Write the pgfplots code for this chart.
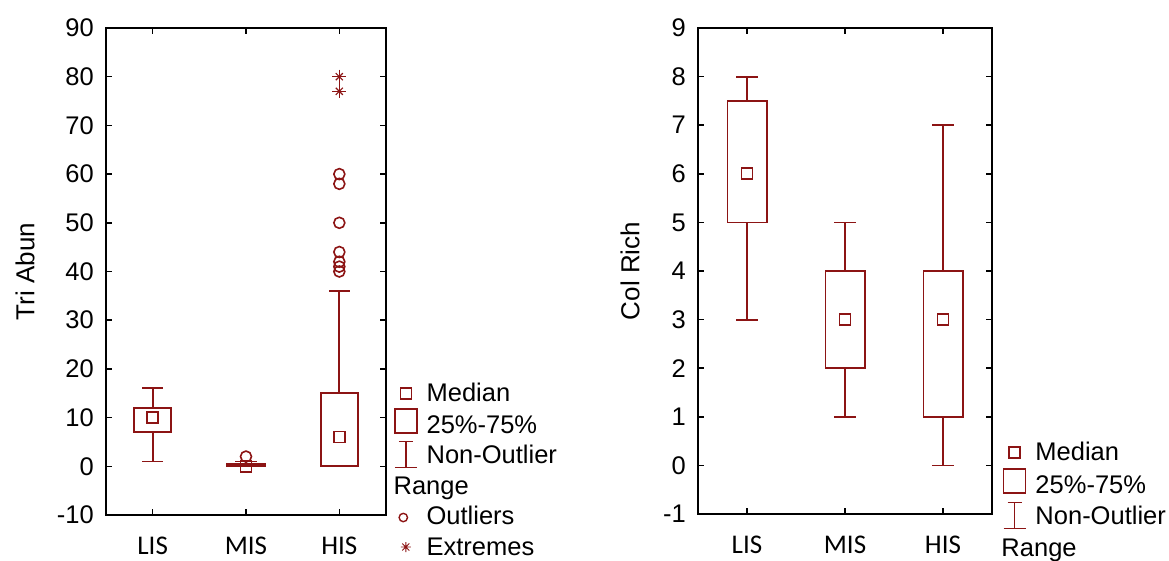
\documentclass[border=0pt]{standalone}
\usepackage{fontspec}
\setmainfont{Liberation Sans}
\newfontfamily\calibri{Carlito}
\usepackage{pgfplots}
\pgfplotsset{compat=1.18}
\definecolor{dred}{RGB}{140,20,20}
\pgfplotsset{
  myaxis/.style={
    scale only axis, anchor=south west,
    xmin=-0.5, xmax=2.5,
    xtick={0,1,2}, xticklabels={LIS,MIS,HIS},
    tick pos=both, tick align=inside,
    axis line style={line width=1.6pt},
    every tick/.style={line width=1.6pt, black},
    major tick length=6pt,
    xticklabel style={font=\calibri\fontsize{27}{30}\selectfont, inner sep=0pt, yshift=-22pt},
    yticklabel style={font=\fontsize{25.5}{28}\selectfont, inner sep=0pt, xshift=-12pt},
    ylabel style={font=\fontsize{26}{30}\selectfont, anchor=center},
    legend cell align=left,
    legend style={draw=none, fill=none, inner sep=0pt, outer sep=0pt,
      row sep=0.5pt, column sep=9pt, font=\fontsize{25.5}{30}\selectfont,
      nodes={inner sep=0pt, text height=18pt, text depth=6pt}},
  },
  bl/.style={dred, line width=1.8pt, line cap=rect, line join=miter, forget plot, mark=none},
  med/.style={dred, only marks, mark=square, mark size=5.5pt, line width=1.8pt, forget plot},
  outl/.style={dred, only marks, mark=o, mark size=5.5pt, line width=1.6pt, forget plot},
  ext/.style={dred, only marks, mark size=7pt, line width=1.2pt, forget plot},
  legimg/.style={legend image code/.code={\path[draw=none, fill=none] (0pt,-12pt) rectangle (22pt,18pt); #1}},
}
\begin{document}
\begin{tikzpicture}
\path[use as bounding box] (-106pt,-45pt) rectangle (1063pt,515pt);
% ---------------- left panel
\begin{axis}[myaxis, at={(0pt,0pt)}, width=280pt, height=487pt,
  ymin=-10, ymax=90, ytick={-10,0,10,20,30,40,50,60,70,80,90},
  yticklabels={-10,0,10,20,30,40,50,60,70,80,90},
  ylabel={Tri Abun},
  ylabel style={at={(axis description cs:-0.289,0.5)}},
  legend style={at={(axis description cs:1.0286,-0.0945)}, anchor=south west}]
% LIS
\addplot[bl] coordinates {(-0.2,7) (0.2,7) (0.2,12) (-0.2,12) (-0.2,7)};
\addplot[bl] coordinates {(0,12) (0,16)};
\addplot[bl] coordinates {(-0.105,16) (0.105,16)};
\addplot[bl] coordinates {(0,7) (0,1)};
\addplot[bl] coordinates {(-0.105,1) (0.105,1)};
% MIS
\addplot[bl] coordinates {(0.8,0) (1.2,0) (1.2,0.5) (0.8,0.5) (0.8,0)};
\addplot[bl] coordinates {(1,0.5) (1,1)};
\addplot[bl] coordinates {(0.895,1) (1.105,1)};
\addplot[bl] coordinates {(0.895,0) (1.105,0)};
% HIS
\addplot[bl] coordinates {(1.8,0) (2.2,0) (2.2,15) (1.8,15) (1.8,0)};
\addplot[bl] coordinates {(2,15) (2,36)};
\addplot[bl] coordinates {(1.895,36) (2.105,36)};
\addplot[bl] coordinates {(1.895,0) (2.105,0)};
% medians
\addplot[med] coordinates {(0,10) (1,0) (2,6)};
% outliers
\addplot[outl] coordinates {(1,2) (2,60) (2,58) (2,50) (2,44) (2,42) (2,41) (2,40)};
% extremes
\addplot[ext, mark=+] coordinates {(2,80) (2,77)};
\addplot[ext, mark=x, mark size=5pt] coordinates {(2,80) (2,77)};
% legend
\addlegendimage{legimg={\draw[dred, line width=1.6pt] (5.5pt,-3pt) rectangle (16.5pt,8pt);}}
\addlegendentry{Median}
\addlegendimage{legimg={\draw[dred, line width=1.6pt] (0pt,-6pt) rectangle (22pt,18pt);}}
\addlegendentry{25\%-75\%}
\addlegendimage{legimg={\draw[dred, line width=1.6pt] (4pt,16pt)--(18pt,16pt) (11pt,16pt)--(11pt,-10pt) (0pt,-10pt)--(22pt,-10pt);}}
\addlegendentry{Non-Outlier}
\addlegendimage{legimg={}}
\addlegendentry{\hspace*{-33pt}Range}
\addlegendimage{legimg={\draw[dred, line width=1.4pt] (8.5pt,1pt) circle (4.2pt);}}
\addlegendentry{Outliers}
\addlegendimage{legimg={\draw[dred, line width=0.9pt] (6pt,2pt)--(16pt,2pt) (11pt,-3pt)--(11pt,7pt) (7.5pt,-1.5pt)--(14.5pt,5.5pt) (7.5pt,5.5pt)--(14.5pt,-1.5pt);}}
\addlegendentry{Extremes}
\end{axis}
% ---------------- right panel
\begin{axis}[myaxis, at={(592pt,1pt)}, width=294pt, height=486pt,
  ymin=-1, ymax=9, ytick={-1,0,1,2,3,4,5,6,7,8,9},
  yticklabels={-1,0,1,2,3,4,5,6,7,8,9},
  ylabel={Col Rich},
  ylabel style={at={(axis description cs:-0.231,0.5)}},
  legend style={at={(axis description cs:1.037,-0.099)}, anchor=south west, row sep=1.5pt}]
% LIS
\addplot[bl] coordinates {(-0.2,5) (0.2,5) (0.2,7.5) (-0.2,7.5) (-0.2,5)};
\addplot[bl] coordinates {(0,7.5) (0,8)};
\addplot[bl] coordinates {(-0.105,8) (0.105,8)};
\addplot[bl] coordinates {(0,5) (0,3)};
\addplot[bl] coordinates {(-0.105,3) (0.105,3)};
% MIS
\addplot[bl] coordinates {(0.8,2) (1.2,2) (1.2,4) (0.8,4) (0.8,2)};
\addplot[bl] coordinates {(1,4) (1,5)};
\addplot[bl] coordinates {(0.895,5) (1.105,5)};
\addplot[bl] coordinates {(1,2) (1,1)};
\addplot[bl] coordinates {(0.895,1) (1.105,1)};
% HIS
\addplot[bl] coordinates {(1.8,1) (2.2,1) (2.2,4) (1.8,4) (1.8,1)};
\addplot[bl] coordinates {(2,4) (2,7)};
\addplot[bl] coordinates {(1.895,7) (2.105,7)};
\addplot[bl] coordinates {(2,1) (2,0)};
\addplot[bl] coordinates {(1.895,0) (2.105,0)};
% medians
\addplot[med] coordinates {(0,6) (1,3) (2,3)};
% legend
\addlegendimage{legimg={\draw[dred, line width=1.6pt] (5.5pt,-3pt) rectangle (16.5pt,8pt);}}
\addlegendentry{Median}
\addlegendimage{legimg={\draw[dred, line width=1.6pt] (0pt,-6pt) rectangle (22pt,18pt);}}
\addlegendentry{25\%-75\%}
\addlegendimage{legimg={\draw[dred, line width=1.6pt] (4pt,16pt)--(18pt,16pt) (11pt,16pt)--(11pt,-10pt) (0pt,-10pt)--(22pt,-10pt);}}
\addlegendentry{Non-Outlier}
\addlegendimage{legimg={}}
\addlegendentry{\hspace*{-34pt}Range}
\end{axis}
\end{tikzpicture}
\end{document}
